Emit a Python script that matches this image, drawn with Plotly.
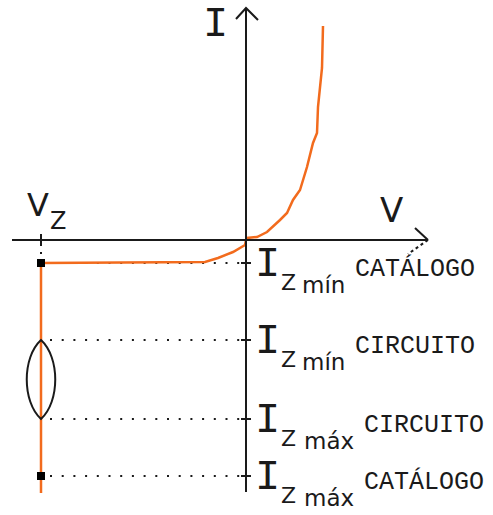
import plotly.graph_objects as go

# zener diode characteristic, arbitrary units (origin at the axes crossing)
v_curve = [-205, -205, -41, -28, -13, -1, 0, 1, 11, 21, 34, 41, 47, 54, 61, 67, 71, 72, 76, 77]
i_curve = [-253, -23, -22, -18, -12, -5, 0, 2, 3, 8, 20, 27, 40, 50, 73, 97, 107, 133, 172, 214]

vz = -205
iz_levels = [-23, -100, -179, -236]
iz_subs = ["mín", "mín", "máx", "máx"]
iz_sups = ["CATÁLOGO", "CIRCUITO", "CIRCUITO", "CATÁLOGO"]
catalog_idx = [0, 3]

h_axis = [-234, 182]
v_axis = [-252, 232]

BLACK = "#1a1a1a"
ORANGE = "#F26B1D"
DOTS = "2px,9.7px"

fig = go.Figure()

# dotted guide lines
for lvl in iz_levels:
    fig.add_trace(go.Scatter(x=[vz + 9, 0], y=[lvl, lvl], mode="lines",
                             line=dict(color=BLACK, width=2, dash=DOTS)))
fig.add_trace(go.Scatter(x=[vz, vz], y=[-4, iz_levels[0]], mode="lines",
                         line=dict(color=BLACK, width=2, dash="2px,6px")))

# lens around the working zone
top, bot = iz_levels[1], iz_levels[2]
h = top - bot
fig.add_shape(type="path", xref="x", yref="y",
              path=f"M {vz},{top} C {vz - 19},{top - h * 0.22} {vz - 19},{bot + h * 0.22} {vz},{bot} "
                   f"C {vz + 19},{bot + h * 0.22} {vz + 19},{top - h * 0.22} {vz},{top} Z",
              line=dict(color=BLACK, width=2))

fig.add_trace(go.Scatter(x=v_curve, y=i_curve, mode="lines",
                         line=dict(color=ORANGE, width=2.5)))

# axes
fig.add_trace(go.Scatter(x=h_axis, y=[0, 0], mode="lines", line=dict(color=BLACK, width=2)))
fig.add_trace(go.Scatter(x=[0, 0], y=v_axis, mode="lines", line=dict(color=BLACK, width=2)))
fig.add_trace(go.Scatter(x=[-10, 0, 12], y=[v_axis[1] - 11, v_axis[1], v_axis[1] - 12], mode="lines",
                         line=dict(color=BLACK, width=2)))
fig.add_trace(go.Scatter(x=[h_axis[1] - 13, h_axis[1]], y=[12, 0], mode="lines",
                         line=dict(color=BLACK, width=2)))
fig.add_trace(go.Scatter(x=[h_axis[1], h_axis[1] - 20], y=[0, -14], mode="lines",
                         line=dict(color=BLACK, width=2, dash="3px,3px")))

# ticks
fig.add_trace(go.Scatter(x=[vz, vz], y=[6, -6], mode="lines", line=dict(color=BLACK, width=2)))
for lvl in iz_levels:
    fig.add_trace(go.Scatter(x=[-5, 5], y=[lvl, lvl], mode="lines", line=dict(color=BLACK, width=2)))

fig.add_trace(go.Scatter(x=[vz] * len(catalog_idx), y=[iz_levels[k] for k in catalog_idx],
                         mode="markers", marker=dict(symbol="square", size=8, color="black")))

MONO = "Liberation Mono"
SANS = "DejaVu Sans"


def txt(x, y, s, size, family, xa="center", ya="middle"):
    fig.add_annotation(x=x, y=y, text=s, showarrow=False, xref="x", yref="y",
                       xanchor=xa, yanchor=ya, font=dict(size=size, family=family, color=BLACK))


txt(-31, 215, "I", 42, MONO)
txt(145, 30, "V", 34, SANS)
txt(-208, 35, "V", 32, SANS)
txt(-188, 19, "Z", 24, SANS)

for lvl, sub, sup in zip(iz_levels, iz_subs, iz_sups):
    txt(21, lvl - 2, "I", 42, MONO)
    txt(42, lvl - 19, "Z", 22, SANS)
    txt(54 if sub == "mín" else 56, lvl - 22, sub, 23, SANS, xa="left")
    txt(107 if sub == "mín" else 116, lvl - 6, sup, 25, MONO, xa="left")

fig.update_layout(
    width=493, height=515,
    margin=dict(l=0, r=0, t=0, b=0),
    paper_bgcolor="white", plot_bgcolor="white",
    showlegend=False,
    xaxis=dict(range=[-246, 247], visible=False, fixedrange=True),
    yaxis=dict(range=[-275, 240], visible=False, fixedrange=True),
)

fig.write_html("out.html", config={"displayModeBar": False},
               post_script="document.body.style.margin='0';")
